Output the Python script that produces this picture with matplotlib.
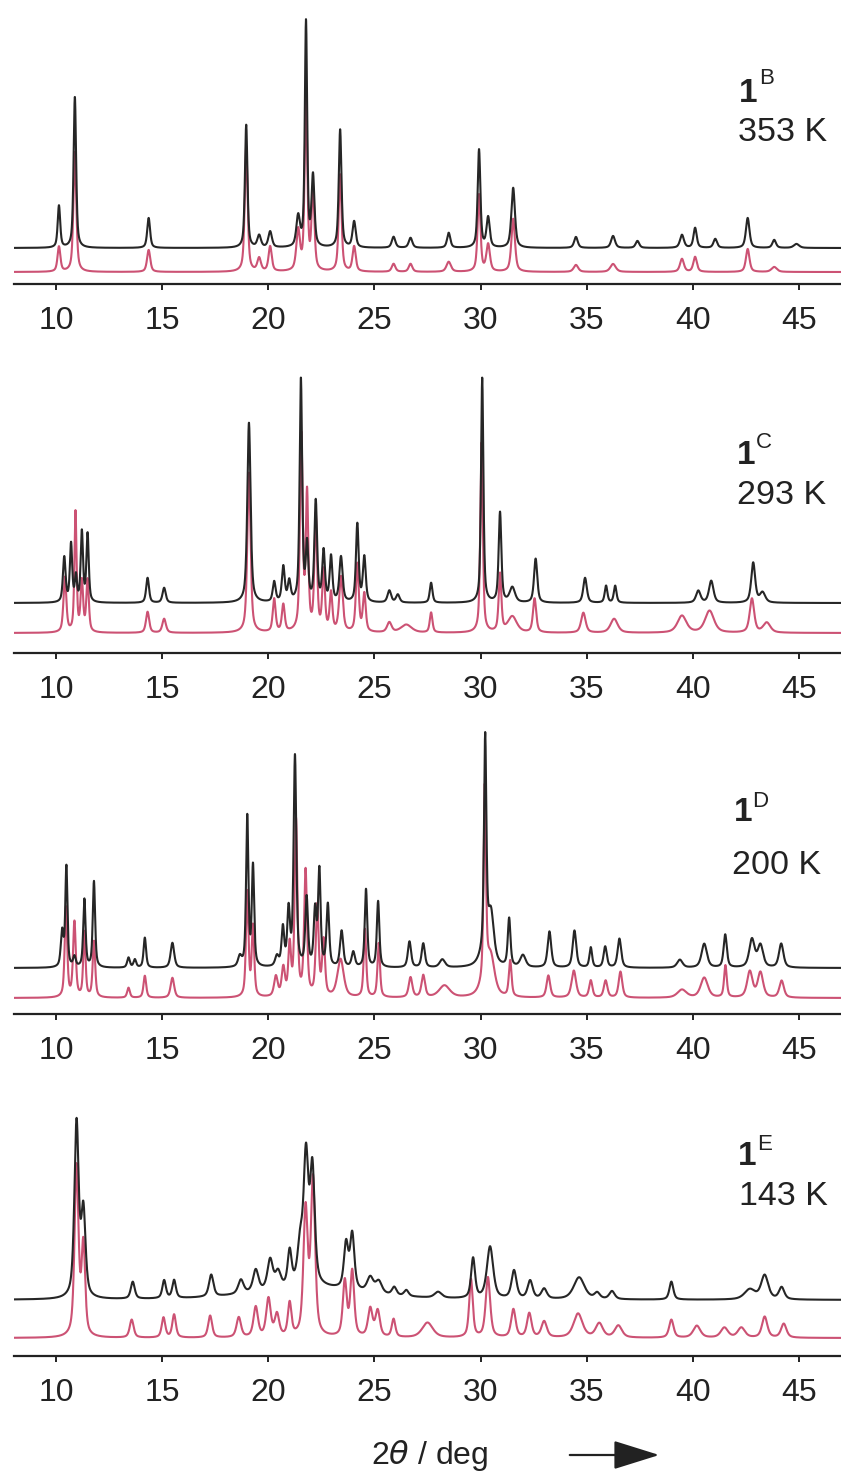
import numpy as np
import matplotlib
matplotlib.use('Agg')
import matplotlib.pyplot as plt
from matplotlib.patches import FancyArrowPatch

plt.rcParams['font.family'] = ['Liberation Sans', 'DejaVu Sans']
plt.rcParams['mathtext.fontset'] = 'dejavusans'

## peak lists: (2theta, height, fwhm)
## heights are in figure pixels above the trace baseline
B_exp = [(10.12, 42, 0.14), (10.87, 151, 0.14), (14.35, 30, 0.16), (18.95, 123, 0.14),
         (19.56, 12, 0.2), (20.08, 16, 0.2), (21.4, 30, 0.2), (21.77, 225, 0.13),
         (22.1, 70, 0.16), (23.38, 118, 0.15), (24.04, 26, 0.18), (25.9, 11, 0.2),
         (26.7, 10, 0.2), (28.5, 15, 0.18), (29.93, 98, 0.15), (30.36, 30, 0.18),
         (31.54, 60, 0.2), (34.5, 11, 0.2), (36.25, 12, 0.22), (37.4, 7, 0.2),
         (39.5, 13, 0.22), (40.12, 20, 0.18), (41.07, 9, 0.2), (42.6, 30, 0.2),
         (43.85, 8, 0.2), (44.9, 4, 0.3)]
B_sim = [(10.12, 25, 0.16), (10.87, 120, 0.16), (14.35, 22, 0.18), (18.95, 125, 0.16),
         (19.56, 13, 0.2), (20.08, 25, 0.18), (21.4, 40, 0.2), (21.77, 170, 0.15),
         (22.1, 80, 0.16), (23.38, 97, 0.16), (24.04, 25, 0.18), (25.9, 8, 0.2),
         (26.7, 8, 0.2), (28.5, 10, 0.25), (29.93, 77, 0.16), (30.36, 27, 0.2),
         (31.54, 53, 0.2), (34.5, 7, 0.25), (36.25, 8, 0.3), (39.5, 13, 0.22),
         (40.12, 15, 0.2), (42.6, 23, 0.2), (43.85, 5, 0.3)]

C_exp = [(10.37, 45, 0.15), (10.69, 58, 0.13), (10.92, 25, 0.12), (11.2, 70, 0.13),
         (11.47, 68, 0.13), (14.3, 25, 0.16), (15.08, 15, 0.18), (19.08, 180, 0.18),
         (20.27, 20, 0.16), (20.7, 35, 0.16), (20.98, 20, 0.16), (21.53, 222, 0.14),
         (21.82, 55, 0.14), (22.23, 100, 0.15), (22.6, 50, 0.15), (22.95, 45, 0.15),
         (23.42, 45, 0.18), (24.19, 78, 0.15), (24.52, 45, 0.16), (25.7, 12, 0.2),
         (26.1, 8, 0.2), (27.67, 20, 0.15), (30.08, 225, 0.13), (30.92, 90, 0.15),
         (31.5, 15, 0.3), (32.6, 44, 0.18), (34.93, 25, 0.2), (35.92, 17, 0.15),
         (36.35, 17, 0.15), (40.27, 12, 0.25), (40.88, 22, 0.25), (42.86, 40, 0.22),
         (43.3, 10, 0.3)]
C_sim = [(10.4, 55, 0.16), (10.9, 120, 0.12), (11.2, 50, 0.14), (11.47, 52, 0.14),
         (14.3, 21, 0.18), (15.08, 14, 0.2), (19.08, 160, 0.18), (20.27, 33, 0.16),
         (20.7, 27, 0.16), (21.55, 195, 0.15), (21.82, 135, 0.14), (22.23, 115, 0.15),
         (22.6, 60, 0.15), (22.95, 38, 0.15), (23.42, 55, 0.2), (24.19, 68, 0.16),
         (24.52, 38, 0.16), (25.7, 10, 0.25), (26.5, 8, 0.6), (27.67, 20, 0.15),
         (30.05, 190, 0.14), (30.92, 58, 0.15), (31.5, 16, 0.5), (32.55, 34, 0.18),
         (34.85, 20, 0.25), (36.3, 14, 0.4), (39.5, 17, 0.5), (40.8, 22, 0.5),
         (42.8, 34, 0.25), (43.5, 10, 0.4)]

D_exp = [(10.27, 35, 0.15), (10.47, 100, 0.12), (10.85, 10, 0.15), (11.32, 68, 0.13),
         (11.77, 86, 0.13), (13.4, 10, 0.15), (13.7, 8, 0.15), (14.17, 30, 0.14),
         (15.47, 25, 0.2), (18.65, 10, 0.2), (19.0, 150, 0.13), (19.27, 100, 0.13),
         (20.4, 10, 0.2), (20.68, 38, 0.15), (20.95, 55, 0.15), (21.25, 210, 0.15),
         (21.8, 68, 0.15), (22.2, 55, 0.15), (22.4, 95, 0.14), (22.8, 62, 0.15),
         (23.45, 36, 0.18), (24.0, 15, 0.18), (24.6, 78, 0.14), (25.17, 66, 0.14),
         (26.65, 26, 0.18), (27.3, 24, 0.18), (28.2, 8, 0.3), (30.22, 210, 0.13),
         (30.3, 20, 0.6), (30.5, 40, 0.3), (31.35, 48, 0.15), (32.0, 12, 0.3),
         (33.25, 36, 0.2), (34.43, 37, 0.2), (35.2, 20, 0.15), (35.88, 21, 0.18),
         (36.55, 29, 0.2), (39.4, 8, 0.3), (40.55, 24, 0.3), (41.54, 33, 0.18),
         (42.8, 28, 0.3), (43.2, 22, 0.3), (44.18, 24, 0.25)]
D_sim = [(10.45, 90, 0.14), (10.85, 75, 0.15), (11.32, 65, 0.13), (11.77, 56, 0.14),
         (13.4, 10, 0.15), (14.17, 22, 0.15), (15.47, 20, 0.2), (19.0, 105, 0.14),
         (19.27, 70, 0.14), (20.35, 20, 0.2), (20.7, 28, 0.18), (21.0, 50, 0.15),
         (21.3, 175, 0.15), (21.75, 125, 0.16), (22.3, 90, 0.16), (22.6, 55, 0.16),
         (23.4, 38, 0.35), (24.55, 68, 0.14), (25.2, 54, 0.14), (26.7, 20, 0.2),
         (27.3, 22, 0.2), (28.3, 12, 0.6), (30.2, 190, 0.13), (30.3, 18, 0.6),
         (30.5, 28, 0.4), (31.4, 36, 0.15), (33.2, 22, 0.2), (34.4, 27, 0.25),
         (35.2, 17, 0.18), (35.9, 17, 0.2), (36.6, 26, 0.2), (39.5, 8, 0.5),
         (40.55, 20, 0.4), (41.55, 32, 0.15), (42.7, 26, 0.3), (43.2, 25, 0.3),
         (44.2, 17, 0.25)]

E_exp = [(10.95, 175, 0.24), (11.27, 85, 0.24), (13.6, 17, 0.22), (15.08, 18, 0.2),
         (15.55, 18, 0.2), (17.3, 22, 0.25), (18.7, 14, 0.3), (19.4, 22, 0.3),
         (20.08, 30, 0.3), (20.45, 16, 0.3), (21.0, 35, 0.22), (21.5, 40, 0.3),
         (21.77, 125, 0.26), (22.07, 115, 0.26), (22.0, 12, 6.0), (23.66, 45, 0.24),
         (23.95, 55, 0.24), (24.8, 15, 0.35), (25.2, 12, 0.35), (25.93, 8, 0.25),
         (26.5, 6, 0.25), (28.0, 6, 0.4), (29.65, 40, 0.22), (30.45, 52, 0.35),
         (31.58, 28, 0.28), (32.34, 18, 0.28), (33.0, 10, 0.3), (34.65, 22, 0.6),
         (35.5, 6, 0.3), (36.2, 8, 0.3), (39.0, 18, 0.22), (42.7, 10, 0.6),
         (43.4, 24, 0.4), (44.2, 12, 0.3)]
E_sim = [(10.95, 170, 0.22), (11.27, 90, 0.2), (13.55, 18, 0.22), (15.05, 20, 0.2),
         (15.55, 23, 0.2), (17.25, 22, 0.22), (18.6, 20, 0.25), (19.4, 30, 0.25),
         (20.0, 38, 0.25), (20.4, 22, 0.25), (21.0, 33, 0.2), (21.75, 125, 0.24),
         (22.1, 155, 0.24), (23.6, 55, 0.22), (23.95, 65, 0.22), (24.8, 28, 0.25),
         (25.15, 26, 0.25), (25.9, 18, 0.2), (27.5, 15, 0.6), (29.55, 58, 0.2),
         (30.35, 60, 0.25), (31.55, 28, 0.25), (32.3, 24, 0.25), (33.0, 16, 0.3),
         (34.6, 24, 0.5), (35.6, 14, 0.4), (36.5, 12, 0.4), (39.0, 18, 0.25),
         (40.2, 12, 0.4), (41.5, 10, 0.4), (42.3, 10, 0.4), (43.4, 21, 0.3),
         (44.3, 14, 0.3)]

phases = ['B', 'C', 'D', 'E']
temps = ['353 K', '293 K', '200 K', '143 K']
exp_peaks = [B_exp, C_exp, D_exp, E_exp]
sim_peaks = [B_sim, C_sim, D_sim, E_sim]
xticks = [10, 15, 20, 25, 30, 35, 40, 45]

# layout in figure pixels (841 x 1473)
W, H = 841, 1473
axis_y = [284, 653, 1014, 1356]
top_y = [0, 360, 730, 1090]
base_exp = [36, 50, 46, 56]
base_sim = [12, 20, 16, 18]
one_pos = [(739, 102), (737, 464), (734, 821), (738, 1165)]
sup_pos = [(759, 84), (756, 448), (752, 807), (757, 1150)]
temp_pos = [(738, 141), (737, 504), (732, 874), (739, 1205)]

black = '#262626'
pink = '#cc5274'


def profile(x, peaks, eta=0.6):
    y = np.zeros_like(x)
    for x0, h, w in peaks:
        d = (x - x0) / (w / 2.0)
        y += h * (eta / (1 + d**2) + (1 - eta) * np.exp(-np.log(2) * d**2))
    return y


x = np.linspace(8, 47, 6000)

fig = plt.figure(figsize=(W / 100, H / 100), dpi=100)

for i in range(4):
    ax = fig.add_axes([14 / W, 1 - axis_y[i] / H, 827 / W, (axis_y[i] - top_y[i]) / H])
    ax.plot(x, base_sim[i] + profile(x, sim_peaks[i]), color=pink, lw=1.5)
    ax.plot(x, base_exp[i] + profile(x, exp_peaks[i]), color=black, lw=1.5)
    ax.set_xlim(8, 47)
    ax.set_ylim(0, axis_y[i] - top_y[i])
    ax.patch.set_visible(False)
    for s in ['top', 'left', 'right']:
        ax.spines[s].set_visible(False)
    ax.spines['bottom'].set_linewidth(1.6)
    ax.spines['bottom'].set_color('#222222')
    ax.set_yticks([])
    ax.set_xticks(xticks)
    ax.tick_params(axis='x', direction='out', length=4, width=1.4, color='#222222',
                   labelsize=23, labelcolor='#222222', pad=12)

    fig.text(one_pos[i][0] / W, 1 - one_pos[i][1] / H, '1', fontsize=24,
             fontweight='bold', color='#222222', va='baseline')
    fig.text(sup_pos[i][0] / W, 1 - sup_pos[i][1] / H, phases[i], fontsize=16,
             color='#222222', va='baseline')
    fig.text(temp_pos[i][0] / W, 1 - temp_pos[i][1] / H, temps[i], fontsize=24.5,
             color='#222222', va='baseline')

fig.text(430 / W, 1 - 1464 / H, r'2$\mathit{\theta}$ / deg', fontsize=23,
         color='#222222', ha='center', va='baseline')
arrow = FancyArrowPatch((567 / W, 1 - 1455 / H), (662 / W, 1 - 1455 / H),
                        transform=fig.transFigure, arrowstyle='-|>,head_length=1.6,head_width=0.5',
                        mutation_scale=18, color='#222222', lw=1.6)
fig.add_artist(arrow)

fig.savefig('out.png', dpi=100)
